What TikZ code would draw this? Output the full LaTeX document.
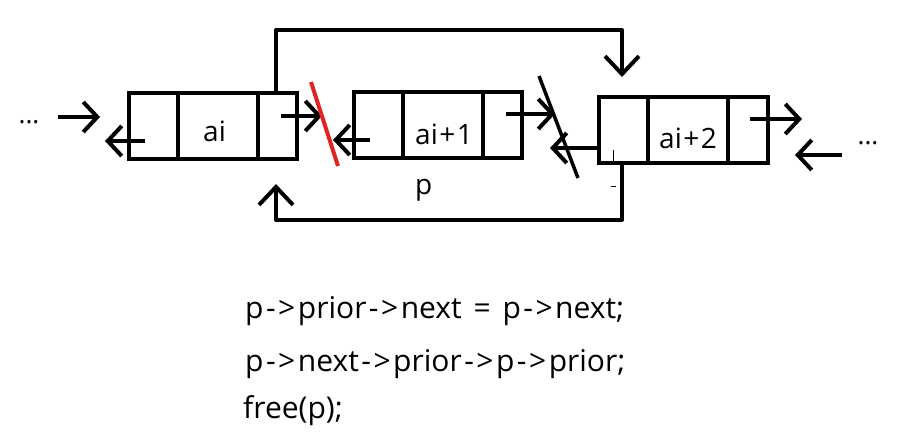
\documentclass[tikz,border=0pt]{standalone}
\usepackage{fontspec}
\setmainfont{Open Sans}
\usetikzlibrary{arrows.meta}
\definecolor{slashred}{RGB}{225,35,35}
\newcommand\myarr{\kern2.5pt-\kern2.5pt>\kern2.5pt}
\newcommand\myplus{\kern1.5pt+\kern1.5pt}
\tikzset{
  cell/.style={draw, line width=4.8pt, minimum height=66pt, inner sep=0pt, outer sep=0pt, anchor=north west},
  ptr/.style={line width=4pt, -{Straight Barb[length=14pt,width=30pt,line width=4pt]}},
  link/.style={line width=4pt, line join=round, -{Straight Barb[length=18pt,width=34pt,line width=4pt]}},
  lbl/.style={font=\fontsize{28pt}{32pt}\selectfont, anchor=base west, inner sep=0pt},
  code/.style={font=\fontsize{30pt}{34pt}\selectfont, anchor=base west, inner sep=0pt},
  dots/.style={font=\fontsize{26pt}{30pt}\selectfont, inner sep=0pt, anchor=base}
}
\begin{document}
\begin{tikzpicture}[x=1pt,y=-1pt]
\useasboundingbox (0,0) rectangle (899,441);
% node ai
\node[cell, minimum width=49pt] (n1a) at (129,93) {};
\node[cell, minimum width=80pt] (n1b) at (178,93) {};
\node[cell, minimum width=39pt] (n1c) at (258,93) {};
% node ai+1
\node[cell, minimum width=49pt] (n2a) at (354,92) {};
\node[cell, minimum width=80pt] (n2b) at (403,92) {};
\node[cell, minimum width=39pt] (n2c) at (483,92) {};
% node ai+2
\node[cell, minimum width=49pt] (n3a) at (599,97) {};
\node[cell, minimum width=80pt] (n3b) at (648,97) {};
\node[cell, minimum width=40pt] (n3c) at (728,97) {};
% labels
\node[lbl] (l1) at (203,142) {ai};
\node[lbl] (l2) at (415,145) {ai\myplus 1};
\node[lbl] (l3) at (659,148) {ai\myplus 2};
\node[lbl] (lp) at (415,194) {p};
\node[dots] (dl) at (29,124) {...};
\node[dots] (dr) at (868,144) {...};
% free ends
\coordinate (a1s) at (58,117);  \coordinate (a1e) at (100,117);
\coordinate (a2s) at (145,141); \coordinate (a2e) at (105,141);
\coordinate (a3s) at (281,116); \coordinate (a3e) at (322,116);
\coordinate (a4s) at (370,140); \coordinate (a4e) at (333,140);
\coordinate (a5s) at (506,114); \coordinate (a5e) at (555,114);
\coordinate (a6s) at (598,148); \coordinate (a6e) at (550,148);
\coordinate (a7s) at (750,119); \coordinate (a7e) at (802,119);
\coordinate (a8s) at (842,155); \coordinate (a8e) at (795,155);
\coordinate (topy) at (0,30);
\coordinate (boty) at (0,220);
\coordinate (tipT) at (622,77);
\coordinate (tipB) at (276,184);
% pointers
\draw[ptr] (a1s) -- (a1e);
\draw[ptr] (a2s) -- (a2e);
\draw[ptr] (a3s) -- (a3e);
\draw[ptr] (a4s) -- (a4e);
\draw[ptr] (a5s) -- (a5e);
\draw[ptr] (a6s) -- (a6e);
\draw[ptr] (a7s) -- (a7e);
\draw[ptr] (a8s) -- (a8e);
% new links
\draw[link] (n1c.north -| tipB) -- (tipB |- topy) -- (tipT |- topy) -- (tipT);
\draw[link] (n3a.south -| tipT) -- (tipT |- boty) -- (tipB |- boty) -- (tipB);
% cut marks
\coordinate (r1) at (311,82); \coordinate (r2) at (338,166);
\coordinate (k1) at (539,76); \coordinate (k2) at (578,178);
\draw[slashred, line width=4pt] (r1) -- (r2);
\draw[line width=3.5pt] (k1) -- (k2);
% small stray marks
\draw[line width=1pt] (613,150) -- (613,162);
\draw[line width=1pt] (611,186) -- (616,186);
% code
\node[code] (c1) at (245,318) {p\myarr prior\myarr next\kern4pt{} = \kern4pt{}p\myarr next;};
\node[code] (c2) at (245,371) {p\myarr next\myarr prior\myarr p\myarr prior;};
\node[code] (c3) at (243,418) {free(p);};
\end{tikzpicture}
\end{document}
